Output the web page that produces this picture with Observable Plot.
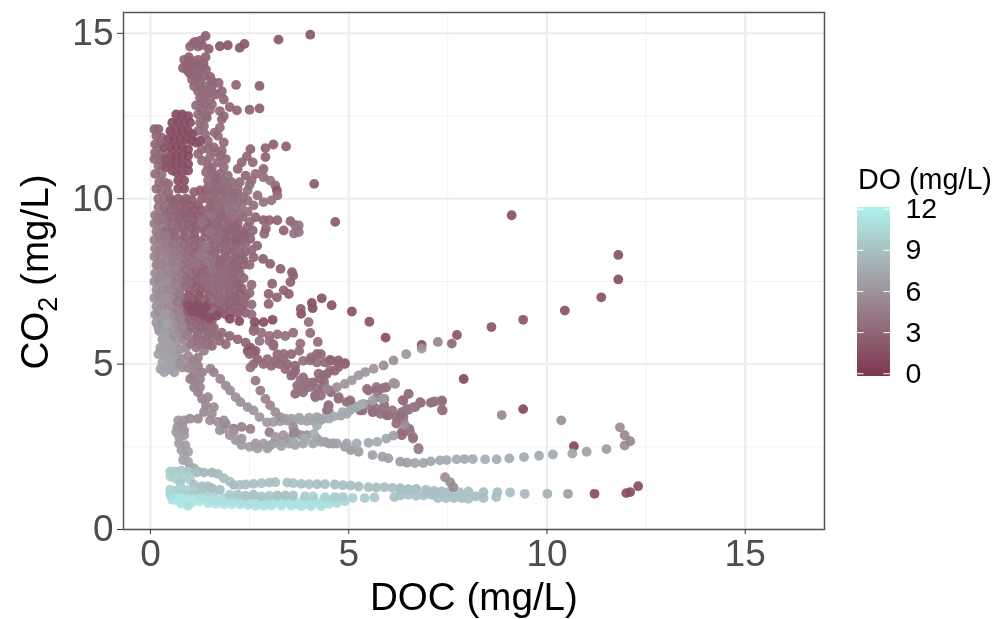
<!DOCTYPE html>
<html><head><meta charset="utf-8">
<script src="https://cdn.jsdelivr.net/npm/d3@7"></script>
<script src="https://cdn.jsdelivr.net/npm/@observablehq/plot@0.6"></script>
<style>
html,body{margin:0;background:#fff}
#wrap{position:relative;width:997px;height:619px;overflow:hidden;font-family:"Liberation Sans",Arial,sans-serif;filter:blur(.45px)}
#wrap svg{position:absolute;background:transparent}
.t{position:absolute;white-space:nowrap;color:#000}
sub{font-size:.7em;line-height:0}
</style></head><body><div id="wrap"></div>
<script>
const xTicks=[0,5,10,15], yTicks=[0,5,10,15], xMinor=[2.5,7.5,12.5,17], yMinor=[2.5,7.5,12.5];
const doTicks=[0,3,6,9,12];
// each point: [DOC, CO2, DO]
const towerTop=[[1.39,14.92,2.6],[1.26,14.78,2.8],[1.13,14.74,3],[1.0,14.6,3],[1.2,14.6,3],[1.47,14.53,2.4],[1.39,14.28,2.6],[1.34,14.08,2.6],[.97,14.28,2.8],[.85,14.2,2.9],[1.13,14.08,2.8],[.92,13.93,2.8],[.82,13.95,2.8],[1.0,13.78,2.9],[1.22,13.83,3],[1.4,13.9,3],[1.51,13.68,2.9],[1.25,13.6,3.2],[1.05,13.6,3],[1.72,13.5,3],[2.16,13.44,2.9],[2.75,13.41,2.4],[1.22,13.45,3.3],[1.4,13.4,3.3],[1.55,13.4,3.4],[1.8,13.25,3],[1.65,13.15,3],[1.85,13.0,3],[1.2,13.25,3.3],[1.45,13.2,3.3],[1.25,13.05,3.3],[1.5,13.0,3.3],[1.15,12.82,3.3],[1.4,12.85,3.4],[1.5,12.68,3.4],[1.3,12.65,3.4],[2.0,12.77,2.8],[2.18,12.67,2.8],[2.5,12.69,2.7],[2.75,12.73,2.6]];
const towerFill=[[1.08,14.7,3],[1.3,14.65,2.8],[1.02,14.15,2.8],[1.2,14.2,2.7],[.9,14.05,2.8],[1.1,13.95,2.8],[1.3,13.95,2.9],[.95,13.85,3],[1.15,13.7,3],[1.35,13.7,3],[1.55,13.55,3],[1.1,13.4,3.1],[1.3,13.3,3.3],[1.55,13.25,3.3],[1.35,13.1,3.3],[1.3,12.9,3.3],[1.55,12.85,3.4],[1.2,12.55,3.3],[1.42,12.45,3.3],[1.25,12.3,3.2],[1.2,12.05,3.2],[1.38,11.95,3.2],[1.3,11.5,3.2],[1.45,11.75,3.2],[1.2,11.35,3.2],[1.55,10.95,3.3],[1.4,10.8,3.3],[1.75,12.65,3.2],[1.85,12.5,3.1],[1.62,12,3.1],[1.78,11.3,3.2],[1.6,11.55,3.2],[1.65,10.65,3],[2.1,10.15,3.3],[2.35,10.05,3.5]];
const farTop=[[4.03,14.96,1.8],[3.23,14.81,2],[2.37,14.68,2],[2.25,14.56,2],[1.95,14.64,1.8],[1.75,14.61,1.8],[4.13,10.45,2.2],[4.66,9.3,2.1],[9.11,9.5,1.5],[11.8,8.3,1.6],[11.8,7.56,1.4],[11.37,7.02,1.6],[10.45,6.62,1.7],[9.4,6.34,1.9],[8.6,6.12,1.9],[7.73,5.88,1.9],[7.6,5.62,3.2],[7.9,4.55,1],[9.4,3.64,1],[10.68,2.52,1],[12.3,1.31,1.2],[12.1,1.13,1.4],[12,1.1,1.5],[11.2,1.08,1.4]];
const darkBlob=[[.65,12.55,1.3],[.8,12.55,1.3],[.95,12.5,1.3],[.55,12.3,1.3],[.7,12.3,1.2],[.85,12.3,1.2],[1,12.3,1.3],[.5,12.05,1.3],[.65,12.05,1.2],[.8,12.05,1.1],[.95,12.05,1.1],[1.05,11.95,1.3],[.45,11.8,1.4],[.6,11.8,1.2],[.75,11.8,1.1],[.9,11.8,1.1],[1.05,11.75,1.2],[1.25,11.75,1.2],[.5,11.55,1.3],[.65,11.55,1.1],[.8,11.55,1],[.95,11.5,1.1],[1.15,11.7,1.3],[.5,11.3,1.4],[.65,11.3,1.1],[.8,11.3,1.1],[.95,11.3,1.1],[.5,11.05,1.4],[.65,11.05,1.2],[.8,11.05,1.2],[.95,11.05,1.2],[.65,10.8,1.4],[.8,10.8,1.3],[.95,10.85,1.4],[.7,10.55,1.5],[.85,10.55,1.5],[.7,10.3,1.6],[.85,10.3,1.6],[.35,11.55,1.8],[.38,11.2,1.9],[.4,10.95,1.9],[.55,10.85,1.7]];
const leftColumn=[[.1,12.1,2.8],[.2,12.1,2.8],[.15,11.9,2.9],[.28,11.85,3],[.12,11.65,3],[.25,11.65,3],[.12,11.4,3],[.28,11.4,3],[.1,11.2,3],[.25,11.2,3.2],[.3,11,3.2],[.28,10.75,3.4],[.35,10.5,3.4],[.22,10.5,3.4],[.28,10.25,3.5],[.2,10,3.6],[.35,10,3.5],[.2,9.75,3.8],[.12,9.5,4.2],[.25,9.5,4],[.1,9.25,4.4],[.25,9.25,4.2],[.15,9,4.4],[.3,9,4.2],[.1,8.75,4.6],[.25,8.75,4.4],[.12,8.5,4.8],[.28,8.5,4.5],[.1,8.25,5],[.25,8.2,4.7],[.15,8,5],[.3,8,4.8],[.12,7.75,5.2],[.28,7.75,5],[.1,7.5,5.5],[.25,7.5,5.2],[.15,7.25,5.6],[.3,7.25,5.3],[.1,7,5.7],[.25,7,5.5],[.15,6.75,5.8],[.3,6.75,5.6],[.12,6.5,6],[.28,6.5,5.8],[.15,6.25,6.2],[.3,6.25,5.9],[.22,6,6.4],[.4,6,6],[.3,5.75,6.3],[.5,5.75,6.2],[.25,5.5,6.6],[.42,5.5,6.5],[.2,5.3,6.7],[.38,5.25,6.7],[.3,5.05,6.9],[.5,5.05,6.8],[.25,4.85,6.8],[.45,4.85,6.6],[.65,5.25,6.4],[.65,5,6.2],[.8,4.9,5.6]];
const midLeft=[[.5,10,2.7],[.7,10,2.4],[.9,10,2.4],[1.1,10.2,2.6],[.55,9.8,3],[.75,9.75,2.7],[1,9.8,2.6],[1.2,9.8,2.3],[.4,9.55,3.2],[.6,9.5,3],[.8,9.5,2.6],[1.0,9.55,2.4],[1.2,9.5,2.3],[.45,9.3,3.3],[.7,9.25,2.9],[.95,9.25,2.5],[1.15,9.2,2.6],[.4,9.05,3.3],[.6,9,3.2],[.85,9,2.8],[1.1,8.95,2.6],[.5,8.8,3.3],[.75,8.75,3.2],[1,8.7,2.8],[1.25,8.7,2.6],[.45,8.55,3.8],[.7,8.5,3.8],[.95,8.45,3],[1.2,8.45,2.7],[.5,8.3,4],[.75,8.25,4],[1,8.2,3.2],[1.25,8.2,2.9],[.55,8.05,4],[.8,8,4],[1.05,7.95,3.2],[1.3,7.95,2.7],[.5,7.75,4.2],[.75,7.75,3.8],[1,7.7,3.1],[1.25,7.7,2.6],[.55,7.5,4.4],[.8,7.5,3.4],[1.05,7.45,2.8],[1.3,7.45,2.4],[.5,7.25,4.8],[.75,7.25,3.6],[1,7.2,2.6],[1.25,7.2,2.4],[.6,7,4.8],[.85,7,3],[1.1,6.95,2.2],[1.35,6.95,2.4],[.55,6.75,5],[.8,6.75,3],[1.05,6.7,2],[1.3,6.65,1.8],[.6,6.5,5],[.85,6.5,3.4],[1.1,6.45,2.4],[1.35,6.4,2],[.65,6.25,5.2],[.9,6.25,3.5],[1.15,6.2,3],[1.4,6.2,3],[.7,6,5],[.95,6,3.6],[1.2,5.95,3.3],[1.45,5.95,3.2],[.8,5.75,5],[1.05,5.75,3.8],[1.3,5.7,3.6],[.9,5.5,5.2],[1.15,5.5,4],[1.35,5.4,4.6],[.95,5.25,5.3],[1.2,5.2,4.5],[1.0,5,5],[1.2,4.95,4.6],[1.1,4.75,4.8],[1.3,4.75,4.6]];
const midFill=[[.6,9.9,2.7],[.85,9.9,2.5],[1.05,9.95,2.5],[1.3,10,2.5],[1.55,9.88,3],[1.8,9.88,3.2],[2,9.88,3.6],[2.22,9.9,3.6],[.5,9.65,3],[.7,9.62,2.8],[.9,9.65,2.5],[1.1,9.65,2.4],[1.3,9.65,2.5],[1.55,9.62,2.9],[1.8,9.62,3.1],[2.05,9.62,3.4],[.3,9.38,4],[.52,9.4,3.2],[.72,9.38,2.9],[.9,9.4,2.6],[1.1,9.38,2.6],[1.32,9.38,2.8],[1.52,9.38,3],[1.72,9.38,3],[1.92,9.38,3.2],[2.12,9.38,3.4],[2.32,9.45,3.4],[2.5,9.3,3.2],[.55,9.12,3.3],[.8,9.12,2.9],[1.05,9.1,2.6],[1.28,9.1,2.7],[1.5,9.12,2.8],[1.75,9.12,3],[2,9.12,3],[2.25,9.05,3],[2.45,9.15,3],[.35,8.88,4.2],[.62,8.88,3.3],[.88,8.85,2.9],[1.12,8.82,2.7],[1.38,8.85,2.9],[1.62,8.88,3],[1.9,8.88,3],[2.18,8.88,3],[2.4,8.9,3],[.4,8.65,4.4],[.62,8.62,3.8],[.85,8.6,3.2],[1.1,8.58,3],[1.35,8.58,3.6],[1.62,8.62,3.2],[1.88,8.62,3],[2.15,8.65,3],[.38,8.4,4.6],[.62,8.38,4.2],[.88,8.35,3.6],[1.12,8.32,3],[1.38,8.32,3.8],[1.62,8.35,3.1],[1.88,8.38,3],[2.1,8.4,3],[2.3,8.3,2.9],[.42,8.12,4.8],[.68,8.12,4.4],[.92,8.08,3.6],[1.18,8.08,3],[1.42,8.08,3.5],[1.72,8.08,3],[2,8.12,2.8],[2.25,8.15,2.8],[.4,7.88,5],[.65,7.88,4.4],[.88,7.85,3.6],[1.15,7.82,3],[1.4,7.82,2.8],[1.68,7.82,3.1],[1.95,7.85,2.9],[2.2,7.88,2.8],[.42,7.62,5],[.68,7.62,4.4],[.92,7.6,3.3],[1.18,7.58,2.7],[1.4,7.6,2.7],[1.62,7.58,3.1],[1.85,7.58,3],[2.08,7.6,2.8],[.42,7.38,5],[.65,7.38,4.6],[.9,7.35,3.3],[1.15,7.32,2.5],[1.42,7.3,2.5],[1.72,7.32,3],[1.98,7.35,2.9],[2.22,7.42,2.7],[.42,7.12,5.2],[.7,7.12,4.2],[.98,7.08,2.4],[1.22,7.08,2],[1.48,7.08,2.4],[1.72,7.05,2.8],[2,7.1,2.8],[2.25,7.15,2.7],[.42,6.88,5.4],[.68,6.88,4.2],[.92,6.85,2.6],[1.18,6.82,1.6],[1.45,6.82,2],[1.72,6.82,2.6],[1.98,6.85,2.7],[2.22,6.88,2.6],[.42,6.62,5.6],[.7,6.62,4.6],[.95,6.6,2.6],[1.2,6.55,1.6],[1.45,6.55,1.8],[1.75,6.58,2.3],[2.02,6.62,2.4],[.45,6.38,5.8],[.75,6.38,4.8],[1,6.35,3],[1.25,6.32,2.6],[1.5,6.32,2.6],[.55,6.12,5.8],[.8,6.12,5],[1.05,6.1,3.4],[1.3,6.08,3],[1.52,6.1,3.2],[.6,5.88,5.6],[.9,5.88,4.6],[1.18,5.85,3.5],[1.42,5.82,3.4],[.62,5.62,5.8],[.75,5.45,5.8],[1.02,5.62,4.2],[1.22,5.62,3.8],[.55,5.35,6.4],[.8,5.15,5.6],[.95,4.88,5.4],[1.1,5.12,4.9],[1.05,4.6,5],[1.25,4.55,4.8]];
const midRight=[[1.45,11.5,3.2],[1.5,11.25,3.2],[1.45,11,3.2],[1.3,11.15,3.3],[1.4,12.5,3.3],[1.35,12.2,3.2],[1.8,12.4,3.2],[1.75,12.15,3.2],[1.7,11.9,3.2],[1.85,11.7,3.2],[1.8,11.45,3.3],[1.65,11.4,3.4],[1.9,11.2,3.3],[1.7,11.1,3.4],[1.85,10.95,3.4],[1.55,10.8,3.3],[1.75,10.75,3.4],[1.95,10.7,3.2],[1.45,10.55,3.2],[1.65,10.5,2.8],[1.85,10.5,3],[2.05,10.5,3.2],[2.3,11.1,3],[2.43,11.28,3],[2.58,11.1,3.1],[2.52,11.5,2.8],[2.9,11.53,2.7],[3.1,11.64,2.6],[3.42,11.58,2.6],[2.9,11.26,2.8],[2.85,10.9,3],[2.2,10.9,3],[2.4,10.7,3],[2.65,10.75,3.2],[2.25,10.5,3.2],[2.55,10.55,3.4],[2.85,10.65,3.5],[3.02,10.55,3.6],[3.15,10.4,3.2],[3.19,10.25,1.7],[3.2,10.1,3.5],[3.05,9.95,3.8],[2.85,9.9,3.8],[2.7,10.1,3.6],[2.45,10.25,3.6],[2.2,10.3,3.5],[2.0,10.25,3.2],[1.6,10.25,2],[1.4,10.25,1.9],[1.25,10.25,2.4],[1.8,10.25,2.4],[2.45,9.95,3.6],[2.3,9.8,3.8],[2.1,10,3.6],[1.9,10,3.6],[1.65,10,3.2],[1.45,10,3],[2.15,9.75,3.8],[1.95,9.75,3.8],[1.75,9.75,3.2],[1.5,9.75,3],[2,9.5,3.7],[1.8,9.5,3],[1.6,9.5,2.7],[1.4,9.5,3],[2.65,9.44,2.9],[2.85,9.35,2.8],[3,9.35,2.8],[3.2,9.35,2.7],[3.53,9.32,2.9],[3.65,9.2,3.5],[3.74,9.19,3.9],[3.74,8.99,3.9],[3.62,8.95,3.9],[3.36,9.04,2.7],[2.91,9.09,2.9],[2.87,8.94,2.9],[2.58,9.04,3],[2.2,9.25,3.1],[1.95,9.25,3],[1.7,9.25,2.9],[1.45,9.25,2.8],[2.1,9,3],[1.85,9,2.9],[1.6,9,2.8],[1.4,9,2.7],[2.3,8.8,3],[2.05,8.75,3],[1.8,8.75,3],[1.55,8.75,2.9],[2.52,8.79,3],[2.25,8.55,3],[2,8.5,3],[1.75,8.5,3],[1.5,8.45,3],[2.69,8.58,2.9],[2.4,8.4,2.9],[2.15,8.25,2.9],[1.9,8.25,3],[1.65,8.2,3],[2.6,8.23,2.9],[2.84,8.18,2.5],[3.02,8.03,2.5],[3.28,7.88,2.5],[3.57,7.78,2.6],[2.35,8,2.7],[2.1,8,2.7],[1.85,7.95,2.9],[1.6,7.95,3],[2.25,7.75,2.8],[2,7.7,3],[1.75,7.7,3.2],[1.5,7.7,3],[2.15,7.5,2.7],[1.9,7.45,3],[1.65,7.45,3.2],[2.3,7.3,2.6],[2.1,7.25,2.8],[1.85,7.2,3],[1.6,7.2,3],[2.4,7.05,2.6],[2.15,7,2.7],[1.9,6.95,2.9],[1.65,6.9,2.7],[2.35,6.8,2.6],[2.1,6.75,2.7],[1.85,6.7,2.6],[1.6,6.7,2.4],[2.4,6.55,2.8],[2.2,6.55,2.6],[1.9,6.5,2.4],[3.6,7.68,2.6],[3.53,7.48,2.6],[3.36,7.23,2.6],[3.19,7.02,2.6],[3.07,7.43,2.6],[2.98,7.12,2.6],[2.98,6.82,2.7],[3.49,7.12,2.7],[3.8,6.52,1.6],[3.79,6.67,2.4],[4.07,6.85,1.6],[4.09,6.69,1.5],[4.32,6.99,1.6],[4.57,6.78,1.7],[5.08,6.59,1.6],[5.52,6.28,1.7],[5.93,5.8,1.3],[6.84,5.58,1.2]];
const denseExtra=[[1.45,10.35,3.4],[1.7,10.38,3.4],[1.95,10.4,3.5],[2.2,10.15,3.5],[2.5,10.42,3.5],[1.6,10.12,3.3],[1.85,10.12,3.4],[2.6,9.8,3.5],[2.45,9.6,3.5],[2.25,9.55,3.6],[1.7,9.75,3.6],[1.55,9.5,3.8],[1.3,9.3,3.9],[1.5,9,3.8],[1.75,8.95,3.4],[1.95,9.05,2.9],[2.15,9.15,2.7],[2.35,8.95,2.8],[2.4,8.68,3],[2.55,8.45,3.1],[2.15,8.75,2.6],[1.9,8.75,2.8],[1.65,8.75,3.6],[1.4,8.55,4.2],[1.25,8.3,4.2],[1.15,8.05,3.8],[1.55,8.2,3.6],[1.8,8.15,3],[2.35,8.15,2.9],[2.5,8,3],[2.1,7.85,3],[1.85,7.85,3.2],[1.55,7.85,3.8],[1.3,7.55,3.2],[1.55,7.55,3.5],[1.8,7.58,3.4],[2.05,7.6,3],[2.35,7.6,3],[2.55,7.4,3.2],[1.45,7.35,3.2],[1.72,7.38,3.4],[2,7.3,3.2],[2.5,7.15,3.2],[2.35,6.95,3.1],[2.55,6.8,3.2],[2,6.95,3],[1.75,6.9,3.2],[1.55,6.55,3.4],[2.1,6.55,3],[2.3,6.65,3],[2.55,6.5,3.3],[.15,10.3,3.5],[.12,10.75,3.3],[.2,11,3.2],[.35,11.15,3.2],[.45,10.45,3.2],[.45,10.2,3.1],[.35,9.75,3.3],[.18,9.35,4.2],[.22,8.9,4.4],[.2,8.4,4.8],[.2,8,5],[.2,7.6,5.4],[.2,7.1,5.6],[.2,6.6,5.9],[.2,6.1,6.4],[.33,5.9,6.8],[.4,5.65,6.8],[.55,5.55,6.6],[.35,5.4,7],[.45,5.2,7],[.55,5,7],[.35,4.75,6.9],[.6,4.75,6.4],[.75,5,5.8],[.35,6.5,6.6],[.4,6.2,6.8],[.33,7,6],[.4,7.5,5.6],[1.55,5.95,3.3],[1.7,5.85,3.4],[1.42,5.6,3.6],[1.55,5.55,3.2],[2.62,6.08,3.4],[1.55,6.3,3]];
const darkRow=[[.95,6.78,1.5],[1.05,6.6,1.4],[1.2,6.72,1.3],[1.32,6.5,1.3],[1.4,6.72,1.4],[1.5,6.4,1.5],[1.68,6.47,1.3],[2,6.37,1.3],[2.24,6.3,1.3],[2.63,6.27,1.4],[2.85,6.27,1.4],[3.08,6.34,1.4],[2.45,5.4,1.7],[2.52,5.5,1.6],[2.58,5.35,1.9]];
const branchesHigh=[[1.6,6.1,3.2],[1.8,5.95,3.2],[1.55,5.8,3.4],[1.75,5.7,3.3],[2.0,5.85,3],[2.2,5.75,2.9],[2.4,5.65,2.8],[2.65,5.4,2.4],[2.7,5.15,2.7],[2.85,5.0,3],[3.05,4.95,3.1],[3.25,5.0,3.2],[3.45,5.0,3.2],[3.65,4.95,3.1],[3.65,4.8,3],[2.6,6.0,3.4],[2.8,5.95,3.6],[3,5.85,3.6],[3.2,5.9,3.6],[3.4,5.85,3.6],[3.6,5.95,3.4],[3.0,5.7,3.8],[2.75,5.7,3.8],[3.1,5.55,3.6],[3.2,5.3,3.2],[3.35,5.15,3.2],[3.55,5.3,3],[3.75,5.4,3.4],[3.85,5.1,3.5],[4.05,5.2,3.4],[4.3,5.3,3.3],[4.2,5.05,3.4],[4.4,5.05,3.2],[4.55,5.1,3],[4.75,5.05,3],[4.9,5,3],[4.65,4.8,3.2],[4.45,4.7,3.2],[4.28,4.55,3.2],[4.1,4.45,3],[3.9,4.4,3.2],[3.7,4.35,3.3],[3.85,4.15,3.4],[3.65,4.1,3.3],[4.15,4.05,3.5],[4.3,4.05,3.6],[4.49,3.75,3.4],[4.45,3.6,3.5],[4.55,4.15,3.2],[4.75,4,3.2],[4.95,3.85,3.4],[5.1,3.75,3.4],[5.35,3.6,3.4],[5.6,3.55,3.6],[5.8,3.5,3.6],[6,3.45,3.6],[6.2,3.4,3.6],[6.38,3.4,3.5],[6.34,3.55,3.4],[6.51,3.62,3.5],[6.68,3.7,3.8],[6.82,3.83,3.8],[7.07,3.83,4],[7.18,3.87,4],[7.35,3.87,4],[7.37,3.6,3.9],[6.51,4.1,4.4],[6.36,3.91,4.2],[5.5,4.2,3.5],[5.7,4.3,3.6],[5.95,4.3,3.6],[6.17,4.4,5.5],[5.75,4.0,4.6],[5.9,3.95,5],[5.65,3.7,4],[5.9,3.75,3.8],[6.38,3.3,4.8],[6.53,3.04,3.4],[6.34,2.95,3.2],[6.62,2.8,4],[6.76,2.46,3.4],[1.9,5.6,3.2],[2.5,5.3,3],[2.6,5,3],[2.95,5.15,3.2],[3.15,5.1,3.2],[3.4,4.85,3.2],[3.55,4.65,3.3],[3.85,4.6,3.2],[4.0,4.3,3.4],[4.2,4.25,3.4],[4.35,4.3,3.3],[5.55,3.75,3.6],[5.3,3.75,3.5],[6.1,3.6,3.6],[6.2,3.2,3.4],[5.75,4.2,4],[5.85,3.6,3.8]];
const branchTrace=[[3.1,5.6,3.4],[3.36,5.31,3.4],[3.61,4.71,3.3],[3.78,5.62,3.4],[3.99,6.27,3.4],[4.03,5.94,3.3],[4.22,5.67,3.2],[4.2,5.31,3.2],[4.03,5.11,3.4],[4.24,4.71,3.2],[4.38,4.45,3.4],[4.53,4.2,3.6],[4.74,3.95,3.6],[5.04,3.9,3.5],[5.29,3.6,3.6],[5.62,3.55,3.6],[5.96,3.45,3.6],[6.3,3.45,3.6],[4.53,5.13,2.8],[4.74,5.11,2.9],[4.91,5.03,2.9],[4.74,4.91,3],[4.53,4.81,3.1],[4.37,4.66,3.2],[3.74,4.2,3.9],[4.16,4,3.8],[3.78,4.5,3.9],[3.95,4.45,3.8],[4.49,3.75,3.8],[4.49,3.6,3.9],[5.46,4.25,3.6],[5.71,4.2,3.6],[6.13,4.43,6],[5.88,4.28,3.8],[5.71,4,5],[5.46,3.77,4.4],[5.88,3.7,4],[6.51,4.1,3.8],[6.38,3.9,3.6],[6.8,3.85,3.6],[7.1,3.85,3.6],[7.35,3.9,3.6],[7.35,3.62,3.8],[6.46,3.65,4],[6.63,3.7,4.2],[6.42,3.15,5.4],[6.55,2.95,4.2],[6.34,2.85,3.2],[6.62,2.75,3.8],[6.76,2.42,5]];
const curve1=[[1.51,4.86,4.8],[1.6,4.75,4.8],[1.76,4.55,5],[1.9,4.35,5.2],[2.01,4.2,5.5],[2.15,4,5.6],[2.27,3.85,5.6],[2.45,3.7,5.8],[2.6,3.6,6],[2.75,3.4,6.2],[2.94,3.24,6.4],[3.1,3.25,6.5],[3.27,3.27,6.6],[3.44,3.29,6.8],[3.6,3.3,7],[3.8,3.3,7],[3.95,3.28,7],[4.11,3.29,7.2],[4.3,3.3,7.2],[4.5,3.35,7.4],[4.79,3.44,7.2],[4.95,3.5,7.4],[5.2,3.7,7.6],[5.37,3.8,7],[5.6,3.9,6.8],[5.85,3.95,6.6],[2.52,4.9,3.6],[2.65,4.5,4],[2.77,4.2,4.4],[2.9,3.95,4.8],[3.02,3.75,5],[3.15,3.55,5.4],[3.27,3.4,5.8],[3.4,3.35,6.4],[3.55,3.35,6.8],[3.75,3.38,7],[4.0,3.38,7],[4.2,3.4,7.1],[4.62,3.42,7.4],[4.85,3.55,7.6],[5.05,3.62,7.4],[5.3,3.76,7.6]];
const curve2=[[3.6,3.1,5.4],[3.65,2.95,5.2],[3.8,2.85,5.6],[3.95,2.85,5.8],[4.2,2.75,6.4],[4.4,2.65,6.6],[4.6,2.6,6.6],[4.9,2.5,6.6],[5.05,2.4,6.4],[5.25,2.35,6.6],[5.6,2.25,6.8],[5.85,2.2,6.8],[6.0,2.15,6.6],[6.3,2.05,6.4],[6.47,2.02,6.6],[6.67,2.01,7],[6.88,2.01,7.2],[7.07,2.06,7.2],[7.3,2.09,7.4],[7.47,2.1,7.5],[7.72,2.12,7.6],[7.92,2.13,7.6],[8.13,2.13,7.6],[8.44,2.12,7.6],[8.73,2.12,7.8],[9.05,2.15,7.6],[9.42,2.19,7.6],[9.8,2.23,7.6],[10.15,2.27,7.5],[10.64,2.3,7.2],[11,2.35,7],[11.5,2.43,6.4],[11.96,2.54,5.6],[12.1,2.67,5],[11.96,2.85,5],[11.84,3.09,5.6]];
const curve3=[[1.0,4.55,4.6],[1.1,4.3,4.8],[1.2,4.15,4.8],[1.3,3.95,5],[1.4,3.75,5.2],[1.35,3.55,5.4],[1.55,3.5,5.5],[1.5,3.3,5.6],[1.7,3.25,5.6],[1.85,3.05,5.8],[1.75,3,6],[2.0,2.85,6],[2.15,2.7,6.2],[2.3,2.55,6.4],[2.5,2.5,6.6],[2.7,2.45,6.6],[2.95,2.45,6.6],[3.1,2.6,6.6],[3.3,2.65,6.8],[3.5,2.6,7],[3.65,2.55,7],[3.85,2.6,7],[4.1,2.6,7],[4.3,2.65,7],[4.49,2.6,6.8],[4.7,2.6,7],[4.95,2.6,7.2],[5.2,2.6,7.4],[5.5,2.62,7.4],[5.72,2.65,7.4],[5.95,2.75,7.2],[6.13,2.84,6.6],[1.9,3.2,5],[2.1,3.05,4.6],[2.3,3.1,4.8],[2.52,3.04,4.6],[3,2.94,4.6],[1.15,4.45,5],[1.25,4.3,5],[1.45,4,5.2],[1.6,3.7,5.4],[1.85,3.3,5.6],[2.1,2.95,6],[2.3,2.75,6.2],[2.65,2.6,6.4],[2.85,2.6,6.6],[3.15,2.8,6.4],[3.35,2.85,6.2],[3.5,2.75,6.4],[3.61,2.9,5],[3.61,2.65,7.4],[3.9,2.75,7.6],[4.12,2.89,7.6],[4.2,3.14,7.6],[4.32,3.35,7.2],[3.02,2.54,6.8],[3.3,2.52,7]];
const hookBand=[[.7,3.3,6],[.85,3.3,6],[1,3.35,5.6],[1.2,3.35,5.4],[.68,3.1,6.2],[.65,2.95,6.4],[.72,2.8,6.6],[.85,2.85,6.4],[.72,2.6,6.6],[.78,2.4,6.8],[.85,2.25,7],[.82,2.1,7.2],[.95,2.05,7.2],[1,1.9,7.6],[1.1,1.85,7.6],[1.2,1.75,8],[.8,3.15,6],[.85,3,6.2],[.88,2.55,6.6],[.95,2.35,6.8]];
const bandUpper=[[.5,1.75,9.6],[.62,1.75,9.6],[.78,1.78,9.4],[.95,1.75,9.5],[1.15,1.72,9],[1.35,1.72,8.4],[1.55,1.72,8.2],[1.7,1.68,8.6],[.5,1.6,10],[.62,1.55,10],[.8,1.55,10],[1.0,1.5,9.6],[.75,1.42,9.5],[1.1,1.35,9],[1.3,1.3,8.8],[1.45,1.3,8.8],[1.85,1.55,9],[2,1.45,9],[2.1,1.35,8.6],[2.25,1.35,9],[2.4,1.36,9],[2.6,1.38,9],[2.8,1.4,9],[3,1.42,9],[3.15,1.43,9],[3.45,1.42,9],[3.6,1.4,9],[3.8,1.38,9],[4,1.37,9],[4.2,1.37,8.8],[4.4,1.37,8.8],[4.65,1.36,8.6],[4.85,1.34,8.8],[5.05,1.33,8.8],[5.25,1.3,8.8],[5.5,1.28,8.8],[5.7,1.27,8.8],[5.9,1.28,8.8],[6.1,1.26,8.8],[6.3,1.25,8.8],[6.5,1.22,8.8],[6.7,1.22,8.8],[6.95,1.2,8.8],[7.15,1.17,8.8],[7.35,1.15,8.8],[7.55,1.15,8.8],[7.8,1.12,8.8],[8.02,1.15,9],[7.43,1.58,5.6],[7.56,1.43,5.6],[7.64,1.28,5.4]];
const bandLower=[[.5,1.2,10],[.5,1.05,10.4],[.7,1.2,10],[.9,1.2,10],[1.1,1.15,9.6],[1.3,1.18,9.2],[1.55,1.25,8.6],[1.75,1.2,8.8],[.55,.9,11],[.72,.95,11.4],[.9,.9,11.5],[1.1,.9,11.5],[.7,.85,11.4],[.95,.72,11],[1.3,.95,11],[1.5,.9,11],[1.7,.87,11],[1.9,.85,11],[2.1,.85,11],[2.3,.85,11],[2.5,.82,11],[2.7,.82,11],[2.9,.8,11.2],[3.1,.8,11.2],[3.3,.8,11.2],[3.5,.8,11.2],[3.7,.78,11.2],[3.9,.78,11.2],[4.1,.78,11],[4.3,.78,11],[4.5,.78,10.8],[4.7,.8,10.6],[4.9,.85,10.4],[5.1,.95,10],[5.4,.95,9.6],[5.65,.97,9.4],[2,1.05,9.6],[2.2,1.05,9.4],[2.4,1.02,9.2],[2.6,1.05,8.8],[2.8,1.0,9.2],[3,1.02,9.4],[3.2,1.03,9],[3.4,1.03,9],[3.6,1.03,9.2],[3.9,1,9.6],[4.1,1,10],[4.4,.98,10],[4.65,.98,9.8],[4.85,.98,9.8],[6.15,.98,9.2],[6.3,1.03,9],[6.5,1.05,9.2],[6.7,1.02,9.2],[6.9,1.03,9.2],[7.1,1.05,9],[7.25,.95,9],[7.45,.95,9],[7.65,.95,8.8],[7.85,.95,9],[8.02,.93,9],[8.21,1,8.8],[8.4,.95,8.8],[8.4,1.13,8.8],[8.72,.98,8.8],[8.75,1.13,8.8],[9.07,1.12,8.8],[9.44,1.08,8.6],[10.01,1.08,8],[10.53,1.08,6.6],[6.3,1.22,9],[6.5,1.2,9],[6.7,1.22,9],[6.95,1.1,9],[7.15,1.1,9],[7.4,1.1,9]];
const bandThick=[[.62,1.05,10.8],[.8,1.05,10.6],[1,1.05,10.4],[1.2,1.05,10.2],[.55,1.02,10.6],[.78,.78,11.4],[1.05,.82,11.5],[1.25,.85,11.4],[1.45,.8,11.4],[1.65,.78,11.4],[1.85,.76,11.4],[2.05,.76,11.4],[2.25,.76,11.3],[2.45,.74,11.3],[2.65,.72,11.2],[2.85,.72,11.3],[3.05,.72,11.3],[3.3,.72,11.4],[3.55,.72,11.4],[3.8,.7,11.3],[4.05,.7,11.2],[4.3,.7,11.2],[1.4,1.05,10],[1.6,1.02,10.2],[1.85,.95,10.4],[2.1,.95,10.2],[2.35,.92,10.6],[2.6,.92,10.6],[2.85,.9,10.8],[3.1,.9,10.8],[3.35,.9,10.6],[3.6,.9,10.8],[3.85,.88,10.8],[4.1,.88,10.6],[4.35,.88,10.6],[4.6,.9,10.4]];
const sideBits=[[6.45,5.3,6],[6.84,5.47,6],[7.25,5.67,5],[6.13,5.11,5.8],[5.88,4.96,5.6],[5.63,4.86,6],[5.42,4.76,6],[5.25,4.66,6.2],[5.08,4.51,6.2],[4.9,4.4,6],[4.7,4.3,5.6],[4.45,4.25,5],[8.86,3.46,5.2],[10.36,3.3,5.6]];
const allPoints=[...leftColumn,...midLeft,...midFill,...midRight,...denseExtra,...towerTop,...towerFill,...darkBlob,...farTop,...darkRow,...branchesHigh,...branchTrace,...curve1,...curve2,...curve3,...hookBand,...sideBits,...bandUpper,...bandThick,...bandLower];

const font='"Liberation Sans",Arial,sans-serif';
const lowColor="#7f3a55", highColor="#aef0ec";
const color={type:"linear",domain:[0,12],range:[lowColor,highColor],interpolate:"lab"};
const wrap=document.getElementById("wrap");

const main=Plot.plot({width:997,height:619,marginLeft:123,marginRight:173,marginTop:12,marginBottom:90,style:{fontFamily:font},
  x:{domain:[-.68,17],label:null},y:{domain:[0,15.63],label:null},color,
  marks:[
    Plot.ruleX(xMinor,{stroke:"#f2f2f2",strokeWidth:1}),
    Plot.ruleY(yMinor,{stroke:"#f2f2f2",strokeWidth:1}),
    Plot.ruleX(xTicks,{stroke:"#ececec",strokeWidth:2}),
    Plot.ruleY(yTicks,{stroke:"#ececec",strokeWidth:2}),
    Plot.dot(allPoints,{x:d=>d[0],y:d=>d[1],fill:d=>d[2],r:4.9,fillOpacity:.93}),
    Plot.frame({stroke:"#555",strokeWidth:1.5}),
    Plot.axisX(xTicks,{label:null,tickSize:5,tickPadding:5,fontSize:37,color:"#4d4d4d",stroke:"#333"}),
    Plot.axisY(yTicks,{label:null,tickSize:6,tickPadding:4,fontSize:37,color:"#4d4d4d",stroke:"#333"})
  ]});
main.style.left="0";main.style.top="0";wrap.append(main);

const rampStops=d3.range(-.2,12.05,.05);
const legend=Plot.plot({width:140,height:188,marginLeft:0,marginRight:107,marginTop:10,marginBottom:10,style:{fontFamily:font},
  x:{domain:[0,1],axis:null},y:{domain:[-.2,12.05],axis:null},color,
  marks:[
    Plot.rect(rampStops,{x1:0,x2:1,y1:d=>d,y2:d=>d+.12,fill:d=>d}),
    Plot.ruleY(doTicks,{x1:0,x2:.2,stroke:"#fff",strokeWidth:1}),
    Plot.ruleY(doTicks,{x1:.8,x2:1,stroke:"#fff",strokeWidth:1}),
    Plot.text(doTicks,{x:1,y:d=>d,text:d=>String(d),textAnchor:"start",dx:15,fontSize:28.5,fill:"#000"})
  ]});
legend.style.left="857px";legend.style.top="198px";legend.style.overflow="visible";wrap.append(legend);

function label(html,css){const d=document.createElement("div");d.className="t";d.innerHTML=html;d.style.cssText=css;wrap.append(d);}
label("DOC (mg/L)","left:370px;top:575px;font-size:38.6px;line-height:44px");
label("DO (mg/L)","left:858px;top:163px;font-size:28.7px;line-height:32px");
label("CO<sub>2</sub> (mg/L)","left:35px;top:272px;font-size:38.6px;line-height:44px;transform:translate(-50%,-50%) rotate(-90deg)");
</script></body></html>
